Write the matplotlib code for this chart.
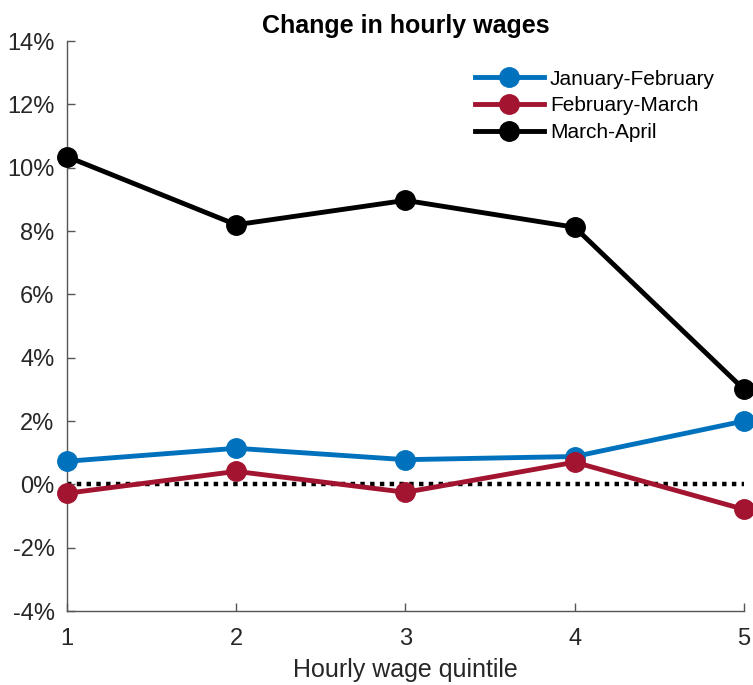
import matplotlib
matplotlib.use("Agg")
import matplotlib.pyplot as plt
from matplotlib.ticker import FuncFormatter

quintiles = [1, 2, 3, 4, 5]
jan_feb = [0.73, 1.14, 0.78, 0.88, 2.0]
feb_mar = [-0.28, 0.41, -0.25, 0.70, -0.79]
mar_apr = [10.35, 8.20, 8.97, 8.12, 3.0]

series_labels = ["January-February", "February-March", "March-April"]
colors = ["#0072BD", "#A2142F", "#000000"]

plt.rcParams["font.family"] = ["Liberation Sans", "DejaVu Sans"]

fig = plt.figure(figsize=(7.53, 6.85), dpi=100)
ax = fig.add_axes([0.089, 0.108, 0.899, 0.832])

for vals, lab, c in zip([jan_feb, feb_mar, mar_apr], series_labels, colors):
    ax.plot(quintiles, vals, color=c, lw=3.5, marker="o", markersize=14, label=lab,
            clip_on=False, zorder=3)

# zero reference line
ax.plot([quintiles[0], quintiles[-1]], [0, 0], color="black", lw=3.2, ls=(0, (1, 1.2)), zorder=2)

ax.set_xlim(1, 5)
ax.set_ylim(-4, 14)
ax.set_xticks(quintiles)
ax.set_yticks(range(-4, 15, 2))
ax.yaxis.set_major_formatter(FuncFormatter(lambda v, p: f"{v:.0f}%"))

for s in ["top", "right"]:
    ax.spines[s].set_visible(False)
for s in ["left", "bottom"]:
    ax.spines[s].set_color("#555555")
    ax.spines[s].set_linewidth(1)
ax.tick_params(direction="in", length=6, color="#555555", labelsize=17,
               labelcolor="#262626", width=1)
ax.tick_params(axis="x", pad=12)
ax.tick_params(axis="y", pad=9)

ax.set_title("Change in hourly wages", fontsize=18, fontweight="bold", pad=6)
ax.set_xlabel("Hourly wage quintile", fontsize=18, color="#262626", labelpad=6)

ax.legend(loc="upper right", frameon=False, fontsize=15, handlelength=3.3,
          handletextpad=0.3, labelspacing=0.37, bbox_to_anchor=(0.985, 0.983))

fig.savefig("out.png", dpi=100)
